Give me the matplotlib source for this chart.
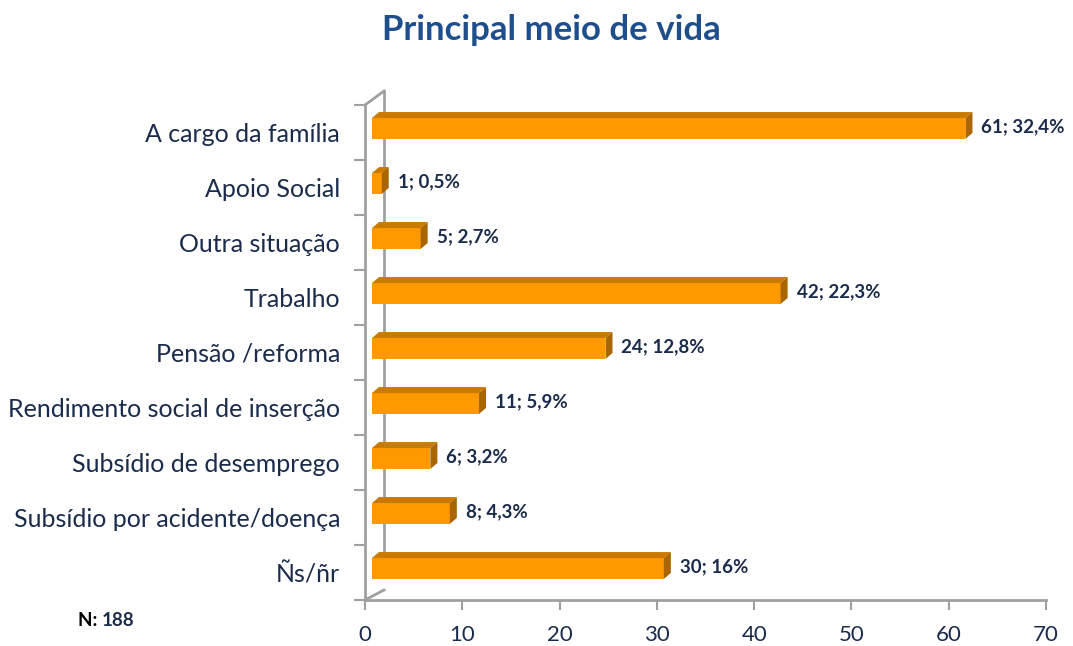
import matplotlib
matplotlib.use("Agg")
import matplotlib.pyplot as plt
from matplotlib.patches import Polygon
from matplotlib.lines import Line2D
import matplotlib.transforms as mtransforms

plt.rcParams['font.family'] = ['Lato', 'DejaVu Sans']

categories = ["A cargo da família", "Apoio Social", "Outra situação", "Trabalho",
              "Pensão /reforma", "Rendimento social de inserção",
              "Subsídio de desemprego", "Subsídio por acidente/doença", "Ñs/ñr"]
counts = [61, 1, 5, 42, 24, 11, 6, 8, 30]
labels = ["61; 32,4%", "1; 0,5%", "5; 2,7%", "42; 22,3%", "24; 12,8%",
          "11; 5,9%", "6; 3,2%", "8; 4,3%", "30; 16%"]
xticks = [0, 10, 20, 30, 40, 50, 60, 70]
title = "Principal meio de vida"
note_n = "N:"
note_val = "188"

W, H = 1073, 646
DPI = 100
fig = plt.figure(figsize=(W / DPI, H / DPI), dpi=DPI)
ax = fig.add_axes([365 / W, 1 - 600 / H, (1046 - 365) / W, (600 - 105) / H])

navy = "#1B2B4B"
grey = "#A0A0A0"
front_c = "#FF9900"
top_c = "#C97A00"
side_c = "#A86500"

n = len(categories)
ypos = list(range(n))
ax.set_xlim(0, 70)
ax.set_ylim(n - 0.5, -0.5)

for s in ["top", "right"]:
    ax.spines[s].set_visible(False)
for s in ["left", "bottom"]:
    ax.spines[s].set_color(grey)
    ax.spines[s].set_linewidth(2)

ax.set_xticks(xticks)
ax.tick_params(axis="x", colors=grey, length=7, width=1.5, labelsize=16,
               labelcolor=navy, pad=11)
ax.set_yticks(ypos)
ax.set_yticklabels(categories)
ax.tick_params(axis="y", length=0, labelsize=18, labelcolor=navy, pad=18)
ax.set_yticks([i - 0.5 for i in range(n + 1)], minor=True)
ax.tick_params(axis="y", which="minor", length=8, width=1.5, colors=grey)

# back wall lines (3D depth)
dx_w, dy_w = 19, 14
wall_tr = ax.transAxes + mtransforms.ScaledTranslation(dx_w / DPI, dy_w / DPI, fig.dpi_scale_trans)
ax.add_line(Line2D([0, 0], [0.036, 1], transform=wall_tr, color=grey, lw=2, clip_on=False))
fig.canvas.draw()
p_top = ax.transAxes.transform((0, 1))
p_bot = ax.transAxes.transform((0, 0))
ax.add_line(Line2D([p_top[0], p_top[0] + dx_w], [p_top[1], p_top[1] + dy_w],
                   transform=None, color=grey, lw=2, clip_on=False))
ax.add_line(Line2D([p_bot[0], p_bot[0] + dx_w], [p_bot[1], p_bot[1] + dy_w - 4],
                   transform=None, color=grey, lw=2, clip_on=False))

# bars with 3D faces
sx, sy = 7, 4        # shift of bar front face (pixels)
ddx, ddy = 7, 6      # bar depth (pixels)
bh = 0.38
bar_tr = ax.transData + mtransforms.ScaledTranslation(sx / DPI, sy / DPI, fig.dpi_scale_trans)
bars = ax.barh(ypos, counts, height=bh, color=front_c, transform=bar_tr, zorder=3, clip_on=False)
fig.canvas.draw()
for y, v, lab in zip(ypos, counts, labels):
    x0, yt = ax.transData.transform((0, y - bh / 2))
    x1, yb = ax.transData.transform((v, y + bh / 2))
    x0 += sx; x1 += sx; yt += sy; yb += sy
    top = Polygon([[x0, yt], [x1, yt], [x1 + ddx, yt + ddy], [x0 + ddx, yt + ddy]],
                  closed=True, transform=None, facecolor=top_c, edgecolor="none", zorder=3)
    side = Polygon([[x1, yt], [x1 + ddx, yt + ddy], [x1 + ddx, yb + ddy], [x1, yb]],
                   closed=True, transform=None, facecolor=side_c, edgecolor="none", zorder=3)
    fig.add_artist(top)
    fig.add_artist(side)
    fig.text((x1 + ddx + 9) / W, ((yt + yb) / 2 + 2) / H, lab, ha="left", va="center",
             fontsize=13.5, fontweight="bold", color=navy)

fig.text(551 / W, 1 - 30 / H, title, ha="center", va="center", fontsize=25,
         fontweight="bold", color="#1F4E8C")
t = fig.text(78 / W, 1 - 620 / H, note_n + " ", ha="left", va="center", fontsize=13.5,
             fontweight="bold", color="black")
fig.canvas.draw()
bb = t.get_window_extent()
fig.text(bb.x1 / W, 1 - 620 / H, note_val, ha="left", va="center", fontsize=13.5,
         fontweight="bold", color=navy)

fig.savefig("out.png", dpi=DPI)
